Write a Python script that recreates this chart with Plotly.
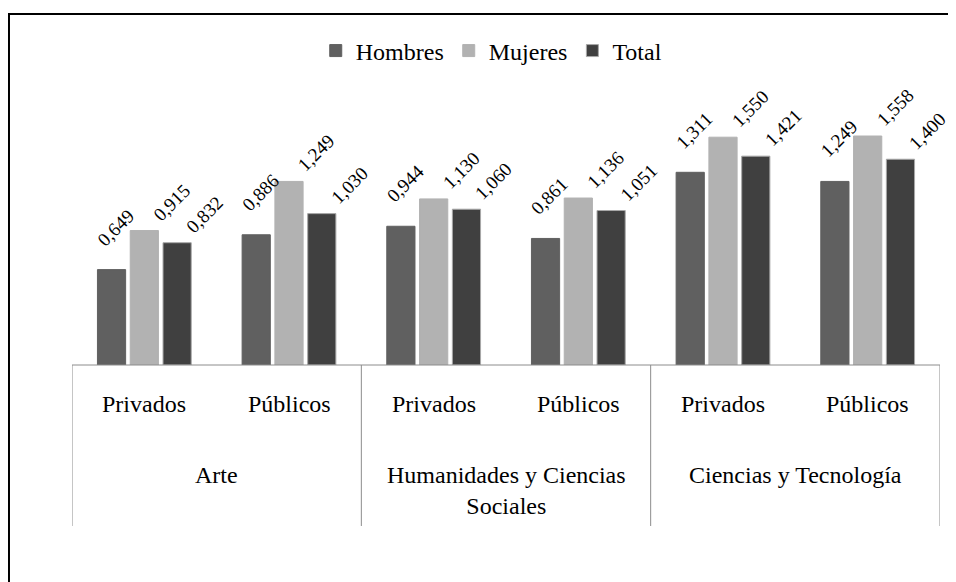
import plotly.graph_objects as go

# data
areas = ["Arte", "Humanidades y Ciencias<br>Sociales", "Ciencias y Tecnología"]
sectors = ["Privados", "Públicos"]
hombres = [0.649, 0.886, 0.944, 0.861, 1.311, 1.249]
mujeres = [0.915, 1.249, 1.130, 1.136, 1.550, 1.558]
total = [0.832, 1.030, 1.060, 1.051, 1.421, 1.400]

cats = [f"{a}|{s}" for a in areas for s in sectors]
FONT = "Liberation Serif"
BIG = 24


def fmt(v):
    return f"{v:.3f}".replace(".", ",")


fig = go.Figure()
# name, values, colour, edge, label x offset / y offset (px)
series = [("Hombres", hombres, "#606060", None, -21, 17),
          ("Mujeres", mujeres, "#b2b2b2", None, 2, 3),
          ("Total", total, "#404040", "#a8a8a8", 2, 3)]
BAR_STEP = 144.67 * (1 - 0.32) / 3  # px between bar centres in a group
for k, (name, vals, col, edge, dx, dy) in enumerate(series):
    fig.add_trace(go.Bar(
        x=cats, y=vals, name=name,
        marker=dict(color=col, line=dict(color=edge or col, width=1)),
    ))
    # rotated value labels like the spreadsheet ones
    for c, v in zip(cats, vals):
        fig.add_annotation(x=c, y=v, text=fmt(v), showarrow=False, textangle=-45,
                           xanchor="left", yanchor="bottom",
                           xshift=(k - 1) * BAR_STEP + dx, yshift=dy,
                           font=dict(family=FONT, size=19, color="black"))

# category "table" under the bars
line = dict(color="#8c8c8c", width=1)
fig.add_shape(type="line", xref="x", yref="paper", x0=-0.5, x1=len(cats) - 0.5,
              y0=0, y1=0, line=line)
for i in range(len(areas) + 1):
    fig.add_shape(type="line", xref="x", yref="paper", x0=i * 2 - 0.5, x1=i * 2 - 0.5,
                  y0=0, y1=-0.6075, line=line)

for i, c in enumerate(cats):
    fig.add_annotation(x=i, y=-0.147, xref="x", yref="paper", text=c.split("|")[1],
                       showarrow=False, yanchor="middle",
                       font=dict(family=FONT, size=BIG, color="black"))
for i, a in enumerate(areas):
    fig.add_annotation(x=i * 2 + 0.5, y=-0.357, xref="x", yref="paper", text=a,
                       showarrow=False, yanchor="top",
                       font=dict(family=FONT, size=BIG, color="black"))

# outer frame (left and top edges visible in the reference)
fig.add_shape(type="path", xref="paper", yref="paper",
              path="M -0.0726,-1 L -0.0726,1.3245 L 1.2,1.3245",
              line=dict(color="black", width=2))

fig.update_layout(
    width=956, height=582,
    margin=dict(l=64, r=24, t=92, b=225),
    paper_bgcolor="white", plot_bgcolor="white",
    barmode="group", bargap=0.32, bargroupgap=0.14,
    showlegend=True,
    legend=dict(orientation="h", x=0.483, xanchor="center", y=1.185, yanchor="middle",
                font=dict(family=FONT, size=BIG, color="black"),
                itemwidth=30, traceorder="normal"),
    xaxis=dict(showticklabels=False, showgrid=False, zeroline=False, showline=False,
               ticks="", range=[-0.5, len(cats) - 0.5]),
    yaxis=dict(visible=False, range=[0, 1.803]),
)

fig.write_html("out.html")
